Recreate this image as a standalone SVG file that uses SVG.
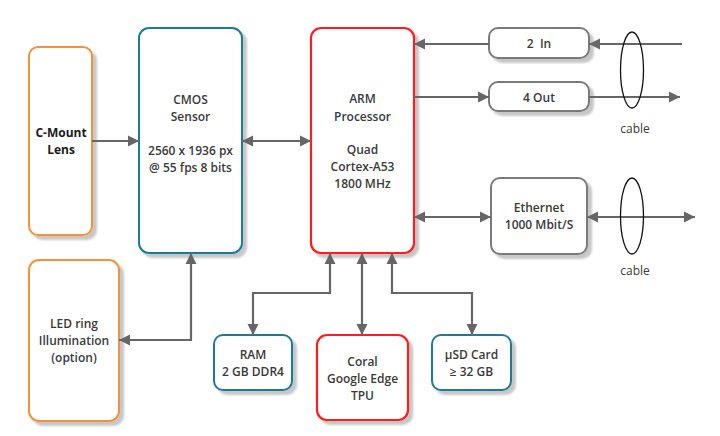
<svg xmlns="http://www.w3.org/2000/svg" width="720" height="436" viewBox="0 0 720 436">
<defs>
<filter id="sh" x="-20%" y="-20%" width="140%" height="140%">
<feDropShadow dx="4" dy="4" stdDeviation="1.2" flood-color="#000" flood-opacity="0.22"/>
</filter>
<marker id="ah" markerUnits="userSpaceOnUse" markerWidth="12" markerHeight="12" viewBox="0 0 12 12" refX="11" refY="6" orient="auto-start-reverse">
<path d="M0,0.5 L11,6 L0,11.5 z" fill="#666"/>
</marker>
</defs>
<style>
.box{fill:#fff;filter:url(#sh);stroke-width:2}
.or{stroke:#F4923A}
.te{stroke:#1F7B98}
.rd{stroke:#FF1A1A;stroke-width:2.2}
.gy{stroke:#7a7a7a}
text{font-family:"Open Sans","Liberation Sans",sans-serif;font-size:12px;font-weight:600;fill:#3a3a3a;text-anchor:middle;white-space:pre}
.bold{font-weight:700;fill:#1a1a1a}
.c{fill:none;stroke:#666;stroke-width:2.2}
.e{marker-end:url(#ah)}
.b{marker-start:url(#ah);marker-end:url(#ah)}
.cab{fill:none;stroke:#111;stroke-width:1.3}
.lbl{font-weight:400}
</style>
<g id="lens"><rect class="box or" x="29" y="47" width="63" height="188" rx="9"/><text class="bold" x="61" y="137">C-Mount</text><text class="bold" x="61" y="154">Lens</text></g>
<g id="cmos"><rect class="box te" x="139" y="28" width="103" height="225" rx="10"/><text x="190.5" y="104">CMOS</text><text x="190.5" y="121">Sensor</text><text x="190.5" y="155">2560 x 1936 px</text><text x="190.5" y="172">@ 55 fps 8 bits</text></g>
<g id="arm"><rect class="box rd" x="311" y="28" width="103" height="225" rx="10"/><text x="362.5" y="103">ARM</text><text x="362.5" y="121">Processor</text><text x="362.5" y="154">Quad</text><text x="362.5" y="171">Cortex-A53</text><text x="362.5" y="188">1800 MHz</text></g>
<g id="in"><rect class="box gy" x="489" y="28" width="100" height="30" rx="9"/><text x="539" y="48">2  In</text></g>
<g id="out"><rect class="box gy" x="489" y="82" width="100" height="29" rx="9"/><text x="539" y="102">4 Out</text></g>
<g id="eth"><rect class="box gy" x="491" y="178" width="96" height="76" rx="9"/><text x="539" y="212">Ethernet</text><text x="539" y="229">1000 Mbit/S</text></g>
<g id="led"><rect class="box or" x="29" y="260" width="90" height="161" rx="10"/><text x="74" y="328">LED ring</text><text x="74" y="345">Illumination</text><text x="74" y="362">(option)</text></g>
<g id="ram"><rect class="box te" x="214" y="335" width="78" height="55" rx="9"/><text x="253" y="359">RAM</text><text x="253" y="376">2 GB DDR4</text></g>
<g id="tpu"><rect class="box rd" x="317" y="335" width="91" height="85" rx="10"/><text x="362.5" y="366">Coral</text><text x="362.5" y="383">Google Edge</text><text x="362.5" y="400">TPU</text></g>
<g id="sd"><rect class="box te" x="432" y="335" width="79" height="55" rx="9"/><text x="471.5" y="359">µSD Card</text><text x="471.5" y="376">≥ 32 GB</text></g>
<g id="connectors">
<path class="c e" d="M92,141 H139"/>
<path class="c b" d="M242,141 H311"/>
<path class="c e" d="M682,44 H589"/>
<path class="c e" d="M489,44 H414"/>
<path class="c e" d="M414,97 H489"/>
<path class="c e" d="M589,97 H680"/>
<path class="c b" d="M414,217 H491"/>
<path class="c b" d="M587,217 H695"/>
<path class="c b" d="M119,340 H191 V253"/>
<path class="c b" d="M330,253 V293 H253 V335"/>
<path class="c b" d="M362,253 V335"/>
<path class="c b" d="M392,253 V293 H472 V335"/>
</g>
<g id="cables">
<ellipse class="cab" cx="632" cy="70" rx="11.5" ry="38"/>
<ellipse class="cab" cx="632" cy="216" rx="11.5" ry="38"/>
<text class="lbl" x="635" y="133">cable</text>
<text class="lbl" x="635" y="275">cable</text>
</g>
</svg>
